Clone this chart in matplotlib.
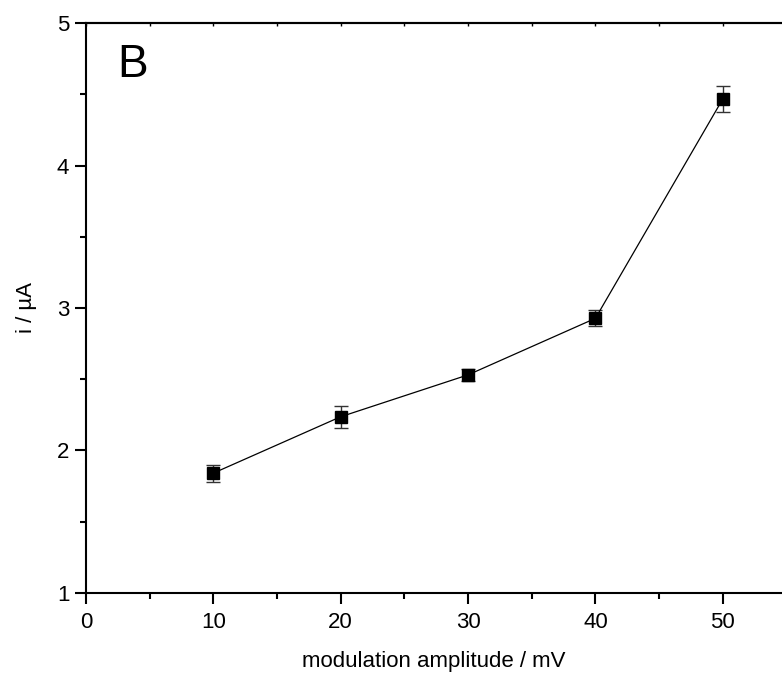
import numpy as np
import matplotlib.pyplot as plt
from matplotlib.ticker import MultipleLocator

plt.rcParams['font.family'] = ['Liberation Sans', 'DejaVu Sans']

amplitude = [10, 20, 30, 40, 50]          # mV
current = [1.84, 2.236, 2.53, 2.927, 4.467]  # uA
current_err = [0.06, 0.076, 0.04, 0.056, 0.089]

fig = plt.figure(figsize=(7.82, 6.79), dpi=100)
ax = fig.add_axes([0.110, 0.127, 0.890, 0.839])

ax.errorbar(amplitude, current, yerr=current_err, fmt='-s', color='black',
            lw=0.9, ms=8.5, mfc='black', mec='black', ecolor='#333333',
            elinewidth=1.0, capsize=5, capthick=1.0)

ax.set_xlim(0, 54.65)
ax.set_ylim(1, 5)
ax.xaxis.set_major_locator(MultipleLocator(10))
ax.xaxis.set_minor_locator(MultipleLocator(5))
ax.yaxis.set_major_locator(MultipleLocator(1))
ax.yaxis.set_minor_locator(MultipleLocator(0.5))

for s in ['left', 'bottom', 'top']:
    ax.spines[s].set_linewidth(1.5)
ax.spines['right'].set_visible(False)

ax.tick_params(which='major', direction='out', length=8, width=1.5, labelsize=16)
ax.tick_params(which='minor', direction='out', length=4, width=1.5)
ax.tick_params(axis='x', which='major', pad=6)
ax.tick_params(axis='y', which='major', pad=4)

# short marks along the top frame
sec = ax.secondary_xaxis('top')
sec.xaxis.set_major_locator(MultipleLocator(10))
sec.xaxis.set_minor_locator(MultipleLocator(5))
sec.tick_params(which='both', direction='in', length=2, width=1, labeltop=False)
sec.spines['top'].set_linewidth(1.5)

ax.set_xlabel('modulation amplitude / mV', fontsize=16, labelpad=13)
ax.set_ylabel('i / µA', fontsize=16, labelpad=14)

ax.text(0.045, 0.965, 'B', transform=ax.transAxes, fontsize=33,
        ha='left', va='top')

fig.savefig('out.png', dpi=100)
